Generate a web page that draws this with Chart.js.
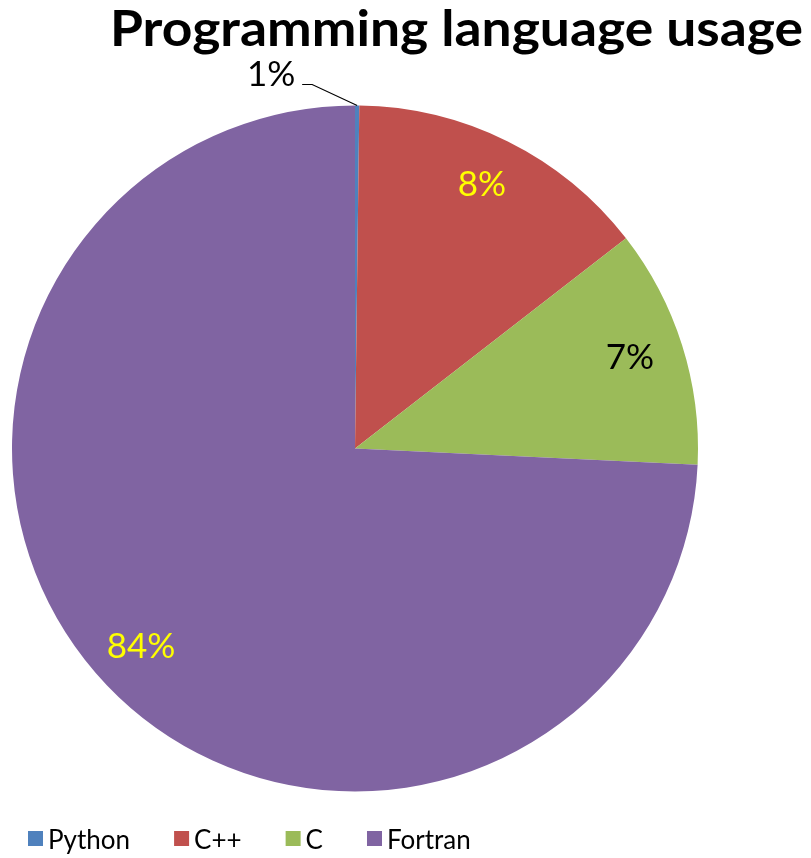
<!DOCTYPE html>
<html>
<head>
<meta charset="utf-8">
<script src="https://cdn.jsdelivr.net/npm/chart.js@4.4.0/dist/chart.umd.min.js"></script>
<style>
html,body{margin:0;padding:0;background:#fff;}
#wrap{width:811px;height:858px;position:relative;}
</style>
</head>
<body>
<div id="wrap"><canvas id="c"></canvas></div>
<script>
const chartTitle = "Programming language usage";
const categories = ["Python", "C++", "C", "Fortran"];
const shares = [0.2, 14.3, 11.25, 74.25];
const percentLabels = ["1%", "8%", "7%", "84%"];
const sliceColors = ["#4F81BD", "#C0504D", "#9BBB59", "#8064A2"];
const labelColors = ["#000000", "#FFFF00", "#000000", "#FFFF00"];

const FONT = "Lato, 'Open Sans', sans-serif";

const overlay = {
  id: 'overlay',
  afterDatasetsDraw(chart) {
    const ctx = chart.ctx;
    const meta = chart.getDatasetMeta(0);
    ctx.save();
    meta.data.forEach((arc, i) => {
      const p = arc.getProps(['x','y','startAngle','endAngle','outerRadius'], true);
      const mid = (p.startAngle + p.endAngle) / 2;
      ctx.font = "35px " + FONT;
      ctx.textAlign = 'center';
      ctx.textBaseline = 'middle';
      if (i === 0) {
        const ox = p.x + Math.cos(mid) * p.outerRadius;
        const oy = p.y + Math.sin(mid) * p.outerRadius;
        const ex = ox - 45, ey = oy - 21;
        ctx.strokeStyle = '#000';
        ctx.lineWidth = 1.2;
        ctx.beginPath();
        ctx.moveTo(ox, oy);
        ctx.lineTo(ex, ey);
        ctx.lineTo(ex - 10, ey);
        ctx.stroke();
        ctx.fillStyle = labelColors[i];
        ctx.fillText(percentLabels[i], ex - 10 - 31, ey - 10);
      } else {
        const r = p.outerRadius * 0.85;
        ctx.fillStyle = labelColors[i];
        ctx.fillText(percentLabels[i], p.x + Math.cos(mid) * r - 3, p.y + Math.sin(mid) * r - 3);
      }
    });
    ctx.restore();
  },
  afterDraw(chart) {
    const ctx = chart.ctx;
    ctx.save();
    // title, stretched to span the reference width
    ctx.font = "bold 49px " + FONT;
    ctx.fillStyle = '#000';
    ctx.textAlign = 'left';
    ctx.textBaseline = 'alphabetic';
    const tw = ctx.measureText(chartTitle).width;
    const targetW = 693;
    ctx.save();
    ctx.translate(110, 46);
    ctx.scale(targetW / tw, 1);
    ctx.fillText(chartTitle, 0, 0);
    ctx.restore();
    // legend
    const ds = chart.data.datasets[0];
    ctx.font = "26px " + FONT;
    ctx.textAlign = 'left';
    ctx.textBaseline = 'alphabetic';
    let x = 28;
    const base = 849;
    chart.data.labels.forEach((lab, i) => {
      ctx.fillStyle = ds.backgroundColor[i];
      ctx.fillRect(x, base - 18, 15, 15);
      ctx.fillStyle = '#000';
      ctx.fillText(lab, x + 20, base);
      x += 20 + ctx.measureText(lab).width + 44;
    });
    ctx.restore();
  }
};

new Chart(document.getElementById('c'), {
  type: 'pie',
  data: {
    labels: categories,
    datasets: [{
      data: shares,
      backgroundColor: sliceColors,
      borderWidth: 0
    }]
  },
  options: {
    responsive: true,
    maintainAspectRatio: false,
    animation: false,
    layout: { padding: { left: 12, right: 113, top: 105, bottom: 66 } },
    plugins: {
      legend: { display: false },
      title: { display: false },
      tooltip: { enabled: false }
    }
  },
  plugins: [overlay]
});
</script>
</body>
</html>
